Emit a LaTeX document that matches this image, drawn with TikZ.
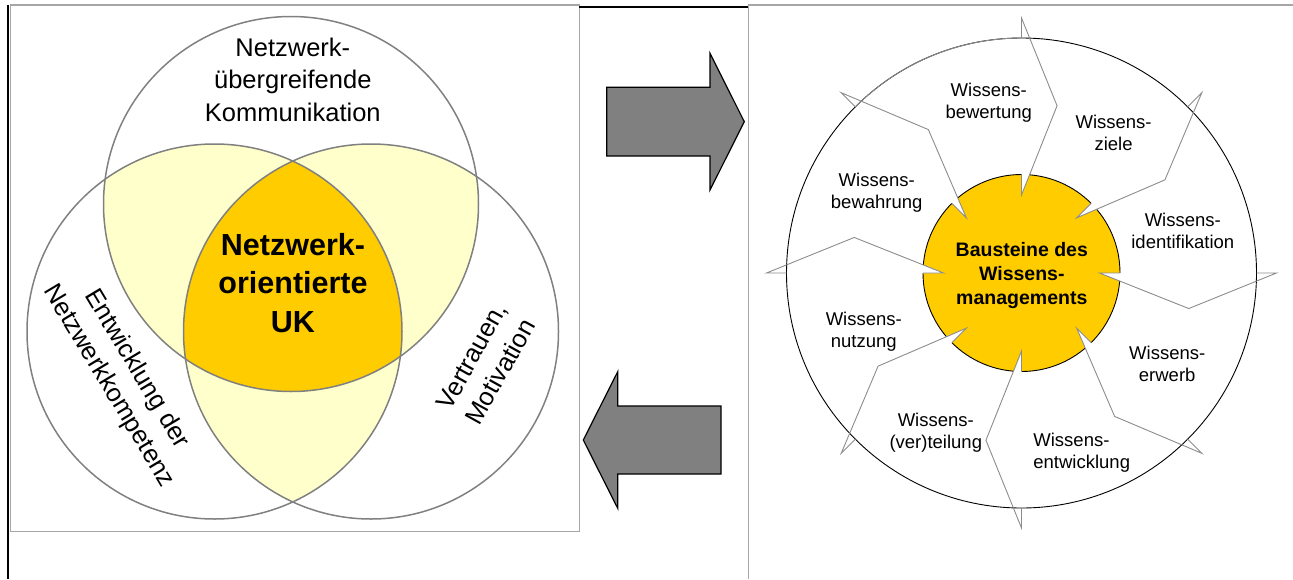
\documentclass[tikz,border=0pt]{standalone}
\usepackage{fontspec}
\setmainfont{Liberation Sans}
\usetikzlibrary{calc}

\definecolor{venngray}{HTML}{808080}
\definecolor{paleyellow}{HTML}{FFFFCC}
\definecolor{gold}{HTML}{FFCC00}
\definecolor{framegray}{HTML}{A6A6A6}
\definecolor{arrowgray}{HTML}{808080}
\definecolor{sepgray}{HTML}{8C8C8C}

\begin{document}
\begin{tikzpicture}[x=1pt,y=-1pt,
  venncircle/.style={draw=venngray, line width=1.5pt},
  venntext/.style={font=\fontsize{25.5}{32.5}\selectfont, align=center, inner sep=0pt},
  vennbold/.style={font=\fontsize{30.5}{38.3}\selectfont\bfseries, align=center, inner sep=0pt},
  blocktext/.style={font=\fontsize{18.5}{22}\selectfont, align=center, inner sep=0pt, anchor=north},
  coretextstyle/.style={font=\fontsize{19.5}{24}\selectfont\bfseries, align=center, inner sep=0pt, anchor=north},
  bigarrow/.style={fill=arrowgray, draw=black, line width=1.2pt, line join=miter},
  separator/.style={draw=sepgray, line width=0.9pt, line join=miter}]

\useasboundingbox (0,0) rectangle (1293,579);

% ---------- frame lines ----------
\draw[framegray, line width=1.5pt] (10.5,5) rectangle (579.3,531.7);
\draw[black, line width=2pt] (8.3,5) -- (8.3,579);
\draw[black, line width=2pt] (579.3,6.7) -- (748.3,6.7);
\draw[framegray, line width=1.5pt] (748.3,5) -- (1293,5);
\draw[framegray, line width=1.5pt] (748.3,5) -- (748.3,579);

% ---------- Venn diagram ----------
\def\vr{187.5pt}
\coordinate (cT) at (291,204);
\coordinate (cL) at (214.5,331.5);
\coordinate (cR) at (371,331.5);

\begin{scope}
  \clip (cT) circle[radius=\vr];
  \fill[paleyellow] (cL) circle[radius=\vr] (cR) circle[radius=\vr];
\end{scope}
\begin{scope}
  \clip (cL) circle[radius=\vr];
  \fill[paleyellow] (cR) circle[radius=\vr];
\end{scope}
\begin{scope}
  \clip (cT) circle[radius=\vr];
  \clip (cL) circle[radius=\vr];
  \fill[gold] (cR) circle[radius=\vr];
\end{scope}
\draw[venncircle] (cT) circle[radius=\vr];
\draw[venncircle] (cL) circle[radius=\vr];
\draw[venncircle] (cR) circle[radius=\vr];

\node[venntext, anchor=north] (kommunikation) at (292.8,37.7)
  {Netzwerk-\\übergreifende\\Kommunikation};
\node[vennbold, anchor=north] (uk) at (293,233.3)
  {Netzwerk-\\orientierte\\UK};
\node[venntext, rotate=-59] (kompetenz) at (122.5,377.5)
  {Entwicklung der\\Netzwerkkompetenz};
\node[venntext, rotate=61] (vertrauen) at (486,364)
  {Vertrauen,\\Motivation};

% ---------- block arrows between the panels ----------
\draw[bigarrow] (606.7,87.3) -- (710,87.3) -- (710,53.3) -- (744.3,121.7)
  -- (710,190) -- (710,156) -- (606.7,156) -- cycle;
\draw[bigarrow] (721,406) -- (617.7,406) -- (617.7,371.7) -- (583.3,440)
  -- (617.7,508.3) -- (617.7,474) -- (721,474) -- cycle;

% ---------- knowledge management wheel ----------
\coordinate (C) at (1021.5,273);
\draw[black, line width=0.9pt] (C) circle[radius=235pt];
\draw[sepgray, line width=0.9pt] ($(C)+(90:235pt)$) arc[start angle=90, end angle=135, radius=235pt];

\node[circle, fill=gold, draw=black, line width=0.9pt, minimum size=197pt, inner sep=0pt] (core) at (C) {};

% white notches cut into the core by the arrow tips
\foreach \a in {90,45,0,-45,-90,-135,180,135} {
  \fill[white] ($(C)+(\a:78pt)$) -- ($(C)+(\a:112pt)$) -- ($(C)+(\a-12:171pt)$) -- cycle;
}
% zig-zag arrows separating the building blocks
\foreach \a in {90,45,0,-45,-90,-135,180,135} {
  \draw[separator] ($(C)+(\a:235pt)$) -- ($(C)+(\a:255pt)$) -- ($(C)+(\a-12:171pt)$)
    -- ($(C)+(\a:78pt)$) -- ($(C)+(\a:98.5pt)$);
}

\node[coretextstyle] (coretext) at (1021.8,242.5) {Bausteine des\\Wissens-\\managements};

\node[blocktext] (bewertung) at (988.7,83.3) {Wissens-\\bewertung};
\node[blocktext] (ziele) at (1113.6,114.8) {Wissens-\\ziele};
\node[blocktext] (identifikation) at (1182.8,213.3) {Wissens-\\identifikation};
\node[blocktext] (erwerb) at (1167.2,346) {Wissens-\\erwerb};
\node[blocktext, align=left, anchor=north west] (entwicklung) at (1033.2,433.3) {Wissens-\\entwicklung};
\node[blocktext] (verteilung) at (935.8,413.3) {Wissens-\\(ver)teilung};
\node[blocktext] (nutzung) at (863.8,311.7) {Wissens-\\nutzung};
\node[blocktext] (bewahrung) at (876.7,172.7) {Wissens-\\bewahrung};

\end{tikzpicture}
\end{document}
